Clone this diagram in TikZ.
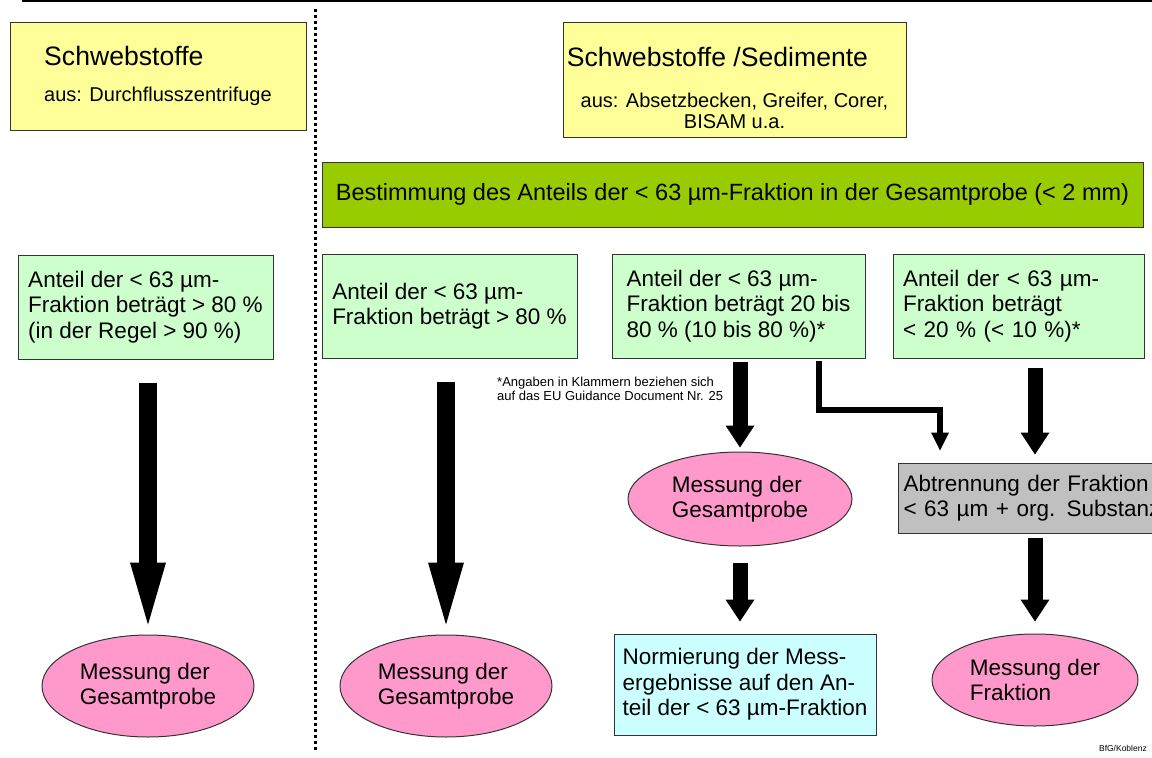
\documentclass[tikz,border=0pt]{standalone}
\usepackage{fontspec}
\setmainfont{Liberation Sans}
\usetikzlibrary{
    arrows.meta,
    positioning,
    shapes.geometric
}

\definecolor{hellgelb}{HTML}{FFFF99}
\definecolor{hellgruen}{HTML}{CCFFCC}
\definecolor{balkengruen}{HTML}{99CC00}
\definecolor{rosa}{HTML}{FF99CC}
\definecolor{hellcyan}{HTML}{CCFFFF}
\definecolor{hellgrau}{HTML}{C0C0C0}
\definecolor{rand}{HTML}{333333}

\newcommand{\grossschrift}{\fontsize{22.5}{25.5}\selectfont}
\newcommand{\titelschrift}{\fontsize{26.6}{28}\selectfont}

\tikzset{
    kasten/.style={draw=rand, line width=1pt, inner sep=0pt, align=left, font=\grossschrift},
    anteil/.style={kasten, fill=hellgruen, minimum height=104pt},
    oval/.style={ellipse, draw=rand, line width=1pt, fill=rosa, inner sep=0pt, align=left, font=\grossschrift},
    dickpfeil/.style={line width=18pt, -{Triangle[length=62pt,width=36pt,line width=0pt]}},
    mittelpfeil/.style={line width=15pt, -{Triangle[length=22pt,width=29pt,line width=0pt]}},
    duennpfeil/.style={line width=6pt, -{Triangle[length=18pt,width=18pt,line width=0pt]}}
}

\begin{document}
\begin{tikzpicture}[x=1pt, y=-1pt]
    \useasboundingbox (0,0) rectangle (1152,758);

    \draw[line width=1.5pt] (22,1) -- (1152,1);
    \draw[line width=3pt, dash pattern=on 3pt off 3pt] (315,9) -- (315,750);

    \node[kasten, fill=hellgelb, minimum width=296pt, minimum height=108pt, font=\fontsize{20}{23}\selectfont]
        (quelleA) at (158,76) {{\titelschrift Schwebstoffe}\\[13pt]aus: Durchflusszentrifuge};
    \node[kasten, fill=hellgelb, align=center, minimum width=343pt, minimum height=115pt, font=\fontsize{20}{21}\selectfont]
        (quelleB) at (734.5,79.5) {\rule{0pt}{35.6pt}{\titelschrift Schwebstoffe /Sedimente}\hspace*{34pt}\\[20pt]aus: Absetzbecken, Greifer, Corer,\\BISAM u.a.};

    \node[kasten, fill=balkengruen, minimum width=821pt, minimum height=65pt, font=\fontsize{23.5}{26}\selectfont]
        (bestimmung) at (732.5,194.5) {Bestimmung des Anteils der < 63 µm-Fraktion in der Gesamtprobe (< 2 mm)};

    \node[anteil, minimum width=255pt] (anteilA) at (145.5,307)
        {Anteil der < 63 µm-\\Fraktion beträgt > 80 \%\\(in der Regel > 90 \%)};
    \node[anteil, minimum width=255pt] (anteilB) at (449.5,306)
        {Anteil der < 63 µm-\\Fraktion beträgt > 80 \%};
    \node[anteil, minimum width=253pt] (anteilC) at (738.5,306)
        {Anteil der < 63 µm-\\Fraktion beträgt 20 bis\\80 \% (10 bis 80 \%)*};
    \node[anteil, text width=231pt, inner xsep=10pt] (anteilD) at (1018.5,306)
        {Anteil der < 63 µm-\\Fraktion beträgt\\< 20 \% (< 10 \%)*};

    \node[anchor=north west, align=left, inner sep=0pt, font=\fontsize{13}{13.5}\selectfont]
        (fussnote) at (497,377) {*Angaben in Klammern beziehen sich\\auf das EU Guidance Document Nr. 25};

    \node[oval, minimum width=212pt, minimum height=102pt] (messungA) at (148,686) {Messung der\\Gesamtprobe};
    \node[oval, minimum width=212pt, minimum height=102pt] (messungB) at (446,686) {Messung der\\Gesamtprobe};
    \node[oval, minimum width=224pt, minimum height=94pt] (messungC) at (740,499) {Messung der\\Gesamtprobe};
    \node[oval, minimum width=206pt, minimum height=92pt] (messungD) at (1035,680) {Messung der\\Fraktion};

    \node[kasten, fill=hellgrau, minimum height=70pt, text width=270pt, inner xsep=5pt, anchor=west]
        (abtrennung) at (898,498) {Abtrennung der Fraktion\\< 63 µm + org. Substanz};
    \node[kasten, fill=hellcyan, minimum width=262pt, minimum height=101pt]
        (normierung) at (745,684.5) {Normierung der Mess-\\ergebnisse auf den An-\\teil der < 63 µm-Fraktion};

    \node[anchor=south east, inner sep=0pt, font=\fontsize{8.5}{10}\selectfont] (bfg) at (1147,752) {BfG/Koblenz};

    \draw[dickpfeil, shorten <=23pt, shorten >=10pt] (messungA.north |- anteilA.south) -- (messungA.north);
    \draw[dickpfeil, shorten <=23pt, shorten >=10pt] (messungB.north |- anteilB.south) -- (messungB.north);
    \draw[mittelpfeil, shorten <=3pt, shorten >=4pt] (messungC.north |- anteilC.south) -- (messungC.north);
    \draw[mittelpfeil, shorten <=9pt, shorten >=8pt] (messungD.north |- anteilD.south) -- (messungD.north |- abtrennung.north);
    \draw[mittelpfeil, shorten <=16pt, shorten >=12pt] (messungC.south) -- (normierung.north -| messungC.south);
    \draw[mittelpfeil, shorten <=4pt, shorten >=12pt] (messungD.north |- abtrennung.south) -- (messungD.north);

    \coordinate (knickA) at (819,410);
    \coordinate (knickB) at (940,410);
    \draw[duennpfeil, shorten <=2pt, shorten >=12pt] (anteilC.south -| knickA) -- (knickA) -- (knickB) -- (knickB |- abtrennung.north);
\end{tikzpicture}
\end{document}
